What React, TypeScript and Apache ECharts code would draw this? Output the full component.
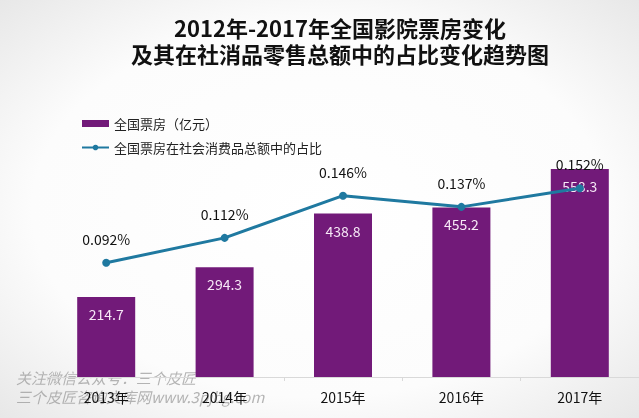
import React, { useEffect, useRef } from "react";
import * as echarts from "echarts";

const categories = ["2013年", "2014年", "2015年", "2016年", "2017年"];
const boxOffice = [214.7, 294.3, 438.8, 455.2, 558.3];
const share = [0.092, 0.112, 0.146, 0.137, 0.152];
const titleLine1 = "2012年-2017年全国影院票房变化";
const titleLine2 = "及其在社消品零售总额中的占比变化趋势图";
const barName = "全国票房（亿元）";
const lineName = "全国票房在社会消费品总额中的占比";
const watermark1 = "关注微信公众号：三个皮匠";
const watermark2 = "三个皮匠咨询文库网www.3pjbg.com";

export default function App() {
  const ref = useRef<HTMLDivElement>(null);
  useEffect(() => {
    if (!ref.current) return;
    const chart = echarts.init(ref.current, undefined, { renderer: "svg" });
    const font = "'Noto Sans CJK SC', 'Open Sans', sans-serif";
    const titleStyle = {
      fontFamily: font,
      fontWeight: "bold",
      fontSize: 22,
      lineHeight: 22,
      color: "#111",
    };
    chart.setOption({
      animation: false,
      backgroundColor: {
        type: "radial",
        x: 0.5,
        y: 0.5,
        r: 0.75,
        colorStops: [
          { offset: 0, color: "#ffffff" },
          { offset: 0.6, color: "#fcfcfc" },
          { offset: 1, color: "#e4e4e4" },
        ],
      },
      title: [
        { text: titleLine1, left: 340, textAlign: "center", top: 16, padding: 0, textStyle: titleStyle },
        { text: titleLine2, left: 340, textAlign: "center", top: 42, padding: 0, textStyle: titleStyle },
      ],
      legend: {
        orient: "vertical",
        left: 76,
        top: 112,
        itemWidth: 27,
        itemHeight: 7,
        itemGap: 11,
        textStyle: { fontFamily: font, fontSize: 13, color: "#222" },
        data: [
          { name: barName, icon: "rect" },
          { name: lineName },
        ],
      },
      grid: { left: 47, width: 598, top: 116.2, bottom: 418 - 377 },
      xAxis: {
        type: "category",
        data: categories,
        axisLine: { lineStyle: { color: "#d9d9d9", width: 1 } },
        axisTick: { show: true, length: 4, lineStyle: { color: "#d9d9d9" } },
        axisLabel: { fontFamily: font, fontSize: 14, color: "#111", margin: 13 },
        z: 5,
      },
      yAxis: [
        { type: "value", min: 0, max: 700, show: false, splitLine: { show: false } },
        { type: "value", min: 0, max: 0.21, show: false, splitLine: { show: false } },
      ],
      graphic: [
        {
          type: "text",
          left: 16,
          top: 368,
          z: 0,
          silent: true,
          style: {
            text: watermark1 + "\n" + watermark2,
            fill: "rgba(150,150,150,0.7)",
            font: "italic 15px 'Noto Sans CJK SC', sans-serif",
            lineHeight: 19,
          },
        },
      ],
      series: [
        {
          name: barName,
          type: "bar",
          data: boxOffice,
          barWidth: 58,
          itemStyle: { color: "#721a79" },
          label: {
            show: true,
            position: "insideTop",
            distance: 10,
            color: "#f6e8f6",
            fontFamily: font,
            fontSize: 14,
          },
          z: 2,
        },
        {
          name: lineName,
          type: "line",
          yAxisIndex: 1,
          data: share,
          symbol: "circle",
          symbolSize: 8,
          lineStyle: { color: "#1f79a0", width: 3 },
          itemStyle: { color: "#1f79a0" },
          label: {
            show: true,
            position: "top",
            distance: 13,
            color: "#111",
            fontFamily: font,
            fontSize: 14,
            formatter: (p: any) => p.value.toFixed(3) + "%",
          },
          z: 3,
        },
      ],
    });
    return () => chart.dispose();
  }, []);
  return (
    <div
      ref={ref}
      style={{ position: "fixed", left: 0, top: 0, width: 639, height: 418 }}
    />
  );
}
